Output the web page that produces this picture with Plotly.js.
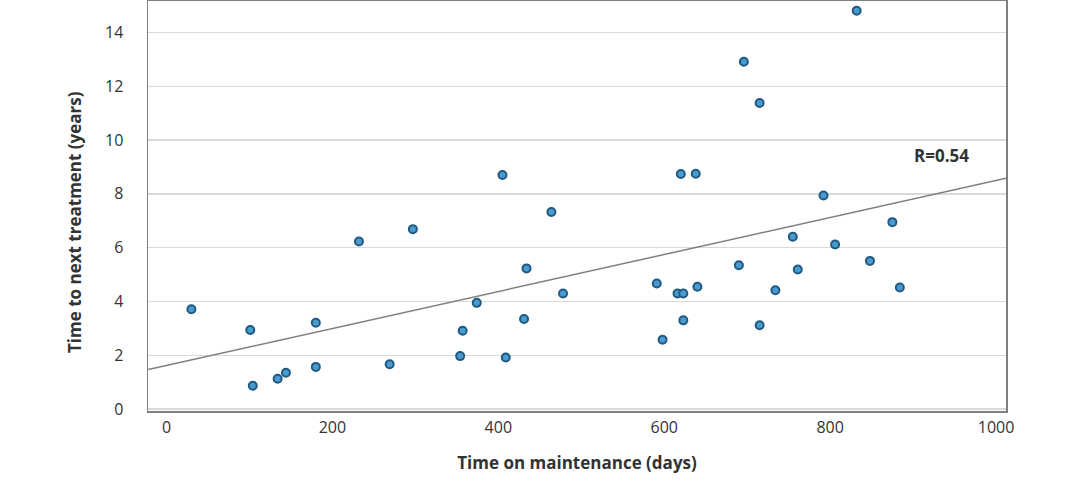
<!DOCTYPE html>
<html>
<head>
<meta charset="utf-8">
<script src="https://cdn.plot.ly/plotly-3.0.1.min.js"></script>
<style>html,body{margin:0;padding:0;background:#fff;}#chart{width:1080px;height:492px;}</style>
</head>
<body>
<div id="chart"></div>
<script>
// Data
var daysOnMaintenance = [30, 101, 104, 134, 144, 180, 180, 232, 269, 297,
  357, 354, 374, 405, 409, 431, 434, 464, 478,
  591, 598, 616, 623, 623, 620, 638, 640, 690, 696,
  715, 715, 734, 755, 761, 792, 806, 832, 848, 875, 884];
var yearsToNextTreatment = [3.71, 2.94, 0.87, 1.13, 1.35, 3.21, 1.57, 6.23, 1.67, 6.69,
  2.91, 1.97, 3.95, 8.70, 1.92, 3.35, 5.23, 7.33, 4.30,
  4.67, 2.58, 4.30, 4.30, 3.30, 8.74, 8.75, 4.55, 5.35, 12.91,
  11.38, 3.12, 4.42, 6.41, 5.19, 7.94, 6.12, 14.81, 5.51, 6.95, 4.52];
var trendDays = [-22, 1012];
var trendYears = [1.47, 8.58];
var xTickVals = [0, 200, 400, 600, 800, 1000];
var yTickVals = [0, 2, 4, 6, 8, 10, 12, 14];
var rLabel = "R=0.54";
var xTitle = "Time on maintenance (days)";
var yTitle = "Time to next treatment (years)";

var font = "'Open Sans', sans-serif";

var traces = [
  {
    x: trendDays, y: trendYears, type: 'scatter', mode: 'lines',
    line: {color: '#7f7f7f', width: 1.5}, hoverinfo: 'skip', showlegend: false
  },
  {
    x: daysOnMaintenance, y: yearsToNextTreatment, type: 'scatter', mode: 'markers',
    marker: {size: 8, color: '#4a9acb', line: {color: '#1f5a85', width: 2}},
    showlegend: false
  }
];

var layout = {
  width: 1080, height: 492,
  margin: {l: 148, r: 74, t: 1, b: 81},
  paper_bgcolor: '#ffffff', plot_bgcolor: '#ffffff',
  font: {family: font, color: '#333333', size: 16},
  xaxis: {
    range: [-22.3, 1012], tickvals: xTickVals, ticktext: xTickVals.map(String),
    showgrid: false, zeroline: false,
    showline: true, mirror: true, linecolor: '#7f7f7f', linewidth: 1.5,
    ticks: '', ticklabelstandoff: 1,
    tickfont: {family: font, size: 16, color: '#333333'},
    title: {text: '<b>' + xTitle + '</b>', standoff: 20,
            font: {family: font, size: 17, color: '#333333'}}
  },
  yaxis: {
    range: [-0.07, 15.17], tickvals: yTickVals, ticktext: yTickVals.map(String),
    showgrid: true, gridcolor: '#d9d9d9', gridwidth: 1.5, zeroline: false,
    showline: true, mirror: true, linecolor: '#7f7f7f', linewidth: 1.5,
    ticks: '', ticklabelstandoff: 20,
    tickfont: {family: font, size: 16, color: '#333333'},
    title: {text: ''}
  },
  annotations: [{
    x: 934, y: 9.44, xref: 'x', yref: 'y', text: '<b>' + rLabel + '</b>',
    showarrow: false, font: {family: font, size: 17, color: '#333333'}
  }, {
    x: 74, y: 222, xref: 'paper', yref: 'paper', text: '<b>' + yTitle + '</b>',
    textangle: -90, showarrow: false, xanchor: 'center', yanchor: 'middle',
    font: {family: font, size: 17, color: '#333333'}
  }]
};
// paper coordinates for y-title annotation computed from pixel position
layout.annotations[1].x = (74 - 148) / (1080 - 148 - 74);
layout.annotations[1].y = (492 - 81 - 222) / (492 - 81 - 1);

Plotly.newPlot('chart', traces, layout, {displayModeBar: false, staticPlot: true});
</script>
</body>
</html>
